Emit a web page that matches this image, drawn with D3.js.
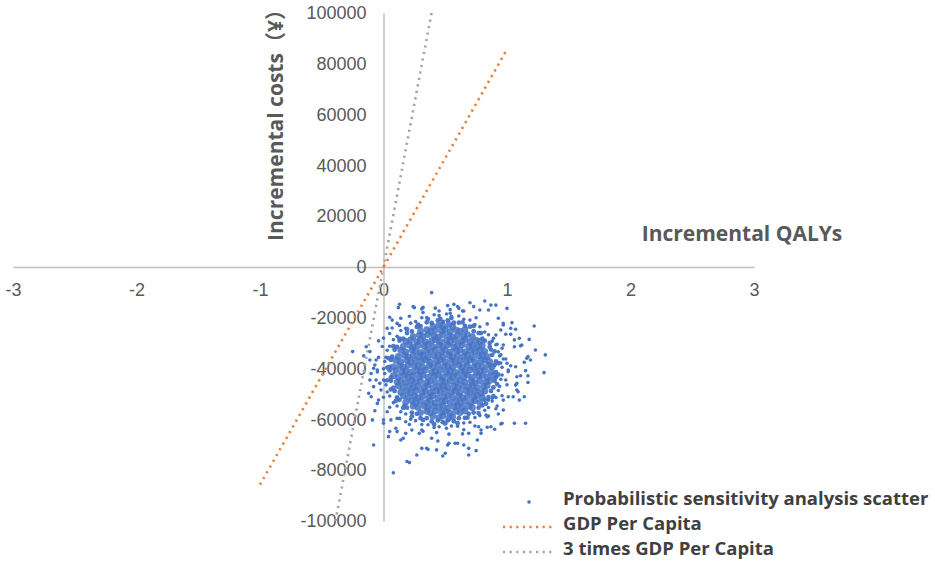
<!DOCTYPE html>
<html>
<head>
<meta charset="utf-8">
<script src="https://cdn.jsdelivr.net/npm/d3@7"></script>
<style>
  body { margin: 0; background: #fff; }
  .tick text { font-family: "Liberation Sans", Arial, sans-serif; font-size: 18px; fill: #595959; }
  .title { font-family: "Open Sans", "Noto Sans CJK SC", sans-serif; font-weight: bold; fill: #595959; }
  .legend text { font-family: "Open Sans", "Noto Sans CJK SC", sans-serif; font-weight: bold; font-size: 18.5px; fill: #404040; }
</style>
</head>
<body>
<script>
// axis ticks
var qalyTicks = [-3, -2, -1, 0, 1, 2, 3];
var costTicks = [-100000, -80000, -60000, -40000, -20000, 0, 20000, 40000, 60000, 80000, 100000];

// willingness-to-pay lines [QALY, cost]
var gdpLine = [[-1, -85698], [1, 85698]];
var gdp3Line = [[-0.389, -100000], [0.389, 100000]];

var legendLabels = ['Probabilistic sensitivity analysis scatter', 'GDP Per Capita', '3 times GDP Per Capita'];

// PSA scatter: [incremental QALY, incremental cost in thousand ¥]
// dense middle of the cloud
var psaCore = [
  [0.40,-23.4],[0.45,-22.8],[0.48,-23.3],[0.53,-22.6],[0.56,-23.5],
  [0.30,-25.3],[0.35,-24.7],[0.38,-25.4],[0.42,-24.8],[0.47,-25.2],[0.50,-24.6],[0.54,-25.5],[0.59,-24.9],[0.62,-25.3],[0.66,-24.7],
  [0.24,-27.4],[0.29,-26.8],[0.32,-27.3],[0.36,-26.6],[0.41,-27.2],[0.44,-27.5],[0.48,-26.7],[0.53,-27.1],[0.56,-27.6],[0.60,-26.9],[0.65,-27.3],[0.68,-26.6],[0.72,-27.4],
  [0.18,-29.2],[0.22,-28.7],[0.27,-29.4],[0.30,-28.8],[0.34,-29.5],[0.39,-29.0],[0.42,-28.6],[0.46,-29.3],[0.51,-28.9],[0.54,-29.6],[0.58,-28.8],[0.63,-29.2],[0.66,-28.5],[0.70,-29.4],[0.75,-28.9],[0.78,-29.3],
  [0.16,-31.3],[0.21,-30.7],[0.24,-31.5],[0.28,-30.9],[0.33,-31.2],[0.36,-30.6],[0.40,-31.4],[0.45,-30.8],[0.48,-31.3],[0.52,-30.7],[0.57,-31.5],[0.60,-31.0],[0.64,-30.6],[0.69,-31.3],[0.72,-30.8],[0.76,-31.4],[0.80,-30.9],
  [0.14,-32.8],[0.18,-33.4],[0.23,-32.7],[0.26,-33.2],[0.30,-33.6],[0.35,-32.9],[0.38,-33.3],[0.42,-32.6],[0.47,-33.4],[0.50,-32.8],[0.54,-33.5],[0.59,-33.0],[0.62,-32.7],[0.66,-33.4],[0.71,-32.9],[0.74,-33.3],[0.78,-32.6],[0.82,-33.2],
  [0.12,-35.2],[0.17,-34.7],[0.20,-35.4],[0.24,-34.9],[0.29,-35.3],[0.32,-34.6],[0.36,-35.5],[0.41,-35.0],[0.44,-34.7],[0.48,-35.3],[0.53,-34.8],[0.56,-35.4],[0.60,-34.9],[0.65,-35.2],[0.68,-34.6],[0.72,-35.5],[0.77,-35.0],[0.80,-34.7],[0.84,-35.3],
  [0.10,-36.8],[0.14,-37.3],[0.19,-36.7],[0.22,-37.4],[0.26,-36.9],[0.31,-37.2],[0.34,-36.6],[0.38,-37.5],[0.43,-37.0],[0.46,-36.7],[0.50,-37.3],[0.55,-36.8],[0.58,-37.4],[0.62,-36.9],[0.67,-37.2],[0.70,-36.6],[0.74,-37.5],[0.79,-37.0],[0.82,-36.7],[0.86,-37.3],
  [0.08,-39.3],[0.13,-38.8],[0.16,-39.4],[0.20,-38.7],[0.25,-39.2],[0.28,-38.9],[0.32,-39.5],[0.37,-38.8],[0.40,-39.3],[0.44,-38.6],[0.49,-39.2],[0.52,-38.9],[0.56,-39.4],[0.61,-38.7],[0.64,-39.3],[0.68,-38.8],[0.73,-39.5],[0.76,-38.9],[0.80,-39.2],[0.85,-38.7],[0.88,-39.3],
  [0.10,-40.7],[0.15,-41.3],[0.18,-40.8],[0.22,-41.4],[0.27,-40.9],[0.30,-41.2],[0.34,-40.6],[0.39,-41.5],[0.42,-41.0],[0.46,-40.7],[0.51,-41.3],[0.54,-40.8],[0.58,-41.4],[0.63,-40.9],[0.66,-41.2],[0.70,-40.6],[0.75,-41.5],[0.78,-41.0],[0.82,-40.7],[0.87,-41.3],
  [0.08,-42.8],[0.12,-43.3],[0.17,-42.7],[0.20,-43.4],[0.24,-42.9],[0.29,-43.2],[0.32,-42.6],[0.36,-43.5],[0.41,-43.0],[0.44,-42.7],[0.48,-43.3],[0.53,-42.8],[0.56,-43.4],[0.60,-42.9],[0.65,-43.2],[0.68,-42.6],[0.72,-43.5],[0.77,-43.0],[0.80,-42.7],[0.84,-43.3],[0.89,-42.8],
  [0.11,-45.3],[0.14,-44.8],[0.18,-45.4],[0.23,-44.7],[0.26,-45.2],[0.30,-44.9],[0.35,-45.5],[0.38,-44.8],[0.42,-45.3],[0.47,-44.6],[0.50,-45.2],[0.54,-44.9],[0.59,-45.4],[0.62,-44.7],[0.66,-45.3],[0.71,-44.8],[0.74,-45.5],[0.78,-44.9],[0.83,-45.2],[0.86,-44.7],
  [0.12,-46.8],[0.16,-47.3],[0.21,-46.7],[0.24,-47.4],[0.28,-46.9],[0.33,-47.2],[0.36,-46.6],[0.40,-47.5],[0.45,-47.0],[0.48,-46.7],[0.52,-47.3],[0.57,-46.8],[0.60,-47.4],[0.64,-46.9],[0.69,-47.2],[0.72,-46.6],[0.76,-47.5],[0.81,-47.0],[0.84,-46.7],
  [0.14,-49.3],[0.19,-48.8],[0.22,-49.4],[0.26,-48.7],[0.31,-49.2],[0.34,-48.9],[0.38,-49.5],[0.43,-48.8],[0.46,-49.3],[0.50,-48.6],[0.55,-49.2],[0.58,-48.9],[0.62,-49.4],[0.67,-48.7],[0.70,-49.3],[0.74,-48.8],[0.79,-49.5],[0.82,-48.9],
  [0.16,-50.7],[0.20,-51.3],[0.25,-50.8],[0.28,-51.4],[0.32,-50.9],[0.37,-51.2],[0.40,-50.6],[0.44,-51.5],[0.49,-51.0],[0.52,-50.7],[0.56,-51.3],[0.61,-50.8],[0.64,-51.4],[0.68,-50.9],[0.73,-51.2],[0.76,-50.6],[0.80,-51.3],
  [0.18,-53.2],[0.23,-52.7],[0.26,-53.4],[0.30,-52.9],[0.35,-53.3],[0.38,-52.6],[0.42,-53.5],[0.47,-53.0],[0.50,-52.7],[0.54,-53.3],[0.59,-52.8],[0.62,-53.4],[0.66,-52.9],[0.71,-53.2],[0.74,-52.6],[0.78,-53.3],
  [0.24,-54.8],[0.28,-55.3],[0.33,-54.7],[0.36,-55.4],[0.40,-54.9],[0.45,-55.2],[0.48,-54.6],[0.52,-55.5],[0.57,-55.0],[0.60,-54.7],[0.64,-55.3],[0.69,-54.8],[0.72,-55.4],
  [0.30,-57.3],[0.35,-56.8],[0.38,-57.4],[0.42,-56.7],[0.47,-57.2],[0.50,-56.9],[0.54,-57.5],[0.59,-56.8],[0.62,-57.3],[0.66,-56.7],
  [0.40,-58.8],[0.45,-59.3],[0.48,-58.7],[0.53,-59.4],[0.56,-58.9]
];

// edge of the dense part
var psaEdge = [
  [0.91,-41.4],[0.90,-38.5],[0.91,-37.2],[0.88,-34.6],[0.87,-32.5],[0.86,-31.4],[0.82,-29.0],[0.80,-28.2],[0.77,-26.0],[0.73,-25.3],
  [0.70,-23.5],[0.66,-23.2],[0.61,-21.9],[0.57,-21.9],[0.52,-21.0],[0.48,-21.6],[0.44,-21.0],[0.39,-22.0],[0.35,-21.8],[0.30,-23.3],
  [0.27,-23.6],[0.23,-25.4],[0.19,-26.0],[0.16,-28.2],[0.13,-29.0],[0.11,-31.5],[0.09,-32.6],[0.07,-35.3],[0.06,-36.6],[0.05,-39.3],
  [0.05,-40.7],[0.06,-43.5],[0.06,-44.8],[0.08,-47.5],[0.09,-48.8],[0.11,-51.3],[0.13,-52.3],[0.17,-54.6],[0.19,-55.4],[0.23,-57.3],
  [0.27,-57.8],[0.30,-59.5],[0.35,-59.5],[0.39,-60.8],[0.44,-60.4],[0.48,-61.1],[0.52,-60.4],[0.57,-60.7],[0.61,-59.5],[0.66,-59.4],
  [0.69,-57.8],[0.73,-57.3],[0.77,-55.4],[0.80,-54.5],[0.82,-52.3],[0.85,-51.2],[0.87,-48.8],[0.89,-47.4],[0.90,-44.8],[0.91,-43.4],
  [0.93,-37.9],[0.90,-33.2],[0.86,-29.9],[0.79,-26.0],[0.73,-23.2],[0.64,-21.8],[0.55,-20.1],[0.46,-20.4],[0.36,-20.5],[0.28,-22.7],
  [0.19,-24.5],[0.13,-28.2],[0.08,-31.2],[0.04,-35.9],[0.03,-39.6],[0.03,-44.6],[0.06,-48.2],[0.10,-52.7],[0.16,-55.5],[0.23,-58.8],
  [0.32,-60.2],[0.41,-61.9],[0.50,-61.6],[0.60,-61.5],[0.68,-59.3],[0.77,-57.5],[0.83,-53.8],[0.89,-50.8],[0.92,-46.1],[0.93,-42.4]
];

// looser fringe and the scattered outliers
var psaSpread = [
  [0.96,-39.5],[0.95,-37.8],[0.94,-35.0],[0.93,-33.4],[0.91,-30.6],[0.88,-29.2],[0.85,-26.7],[0.82,-25.6],[0.78,-23.5],[0.74,-22.7],
  [0.70,-20.9],[0.65,-20.6],[0.61,-19.3],[0.55,-19.4],[0.51,-18.5],[0.45,-19.1],[0.41,-18.8],[0.35,-19.9],[0.31,-20.0],[0.26,-21.5],
  [0.22,-22.1],[0.18,-24.1],[0.14,-25.0],[0.11,-27.3],[0.08,-28.6],[0.05,-31.2],[0.03,-32.8],[0.02,-35.6],[0.01,-37.2],[0.00,-40.1],
  [0.01,-41.9],[0.01,-44.8],[0.02,-46.4],[0.03,-49.2],[0.05,-50.8],[0.08,-53.4],[0.11,-54.7],[0.14,-57.0],[0.18,-57.9],[0.22,-59.9],
  [0.26,-60.5],[0.31,-62.0],[0.36,-62.1],[0.41,-63.2],[0.45,-62.9],[0.51,-63.5],[0.55,-62.6],[0.60,-62.7],[0.65,-61.4],[0.70,-61.1],
  [0.74,-59.3],[0.78,-58.5],[0.82,-56.4],[0.85,-55.3],[0.88,-52.8],[0.91,-51.4],[0.93,-48.6],[0.94,-47.0],[0.95,-44.2],[0.96,-42.5],
  [1.01,-40.6],[0.99,-36.2],[0.97,-30.7],[0.91,-26.8],[0.84,-22.4],[0.75,-20.0],[0.64,-17.3],[0.54,-16.8],[0.42,-16.2],[0.32,-17.9],
  [0.21,-19.4],[0.13,-23.0],[0.05,-26.2],[-0.01,-31.3],[-0.04,-35.6],[-0.05,-41.3],[-0.03,-45.8],[0.00,-51.3],[0.05,-55.2],[0.13,-59.6],
  [0.21,-62.0],[0.32,-64.7],[0.43,-65.2],[0.53,-65.8],[0.65,-64.1],[0.74,-62.6],[0.84,-59.0],[0.91,-55.8],[0.96,-50.7],[1.00,-46.4],
  [0.39,-10.1],[0.25,-16.0],[0.31,-16.5],[0.13,-14.7],[0.12,-16.0],[0.05,-19.8],[0.14,-20.2],[0.03,-24.1],[0.07,-24.0],[0.00,-28.0],
  [-0.04,-29.1],[-0.14,-31.4],[-0.16,-35.0],[-0.11,-36.6],[-0.07,-38.6],[-0.05,-40.6],[-0.10,-41.9],[-0.06,-44.5],[0.45,-17.3],[0.52,-15.2],
  [0.57,-14.7],[0.48,-21.5],[0.54,-18.2],[0.24,-15.6],[0.32,-15.9],[0.61,-16.3],[0.70,-14.1],[0.73,-15.6],[0.82,-13.4],[0.87,-15.0],
  [0.91,-15.0],[0.07,-20.9],[0.11,-22.2],[0.97,-22.2],[1.04,-21.9],[1.07,-24.5],[1.10,-28.1],[1.12,-30.7],[1.18,-28.5],[1.22,-23.2],
  [1.23,-32.7],[1.31,-34.6],[1.16,-35.9],[1.19,-36.6],[1.30,-41.6],[1.15,-40.8],[1.08,-43.2],[1.07,-46.5],[1.08,-48.4],[1.14,-51.1],
  [1.05,-51.1],[0.97,-52.4],[1.15,-61.5],[1.06,-61.5],[0.95,-61.8],[0.87,-62.9],[0.79,-65.5],[0.76,-68.1],[0.69,-71.4],[0.60,-69.4],
  [0.52,-70.1],[0.50,-73.3],[0.43,-72.0],[0.35,-71.4],[0.31,-71.4],[0.27,-74.0],[0.19,-76.6],[0.08,-81.0],[-0.08,-70.1],[0.04,-66.8],
  [0.11,-64.8],[0.18,-65.5],[-0.11,-33.3],[-0.06,-36.6],[-0.08,-39.9],[-0.11,-44.5],[-0.10,-51.1],[-0.09,-60.2],[0.00,-44.5],[-0.02,-48.4],
  [-0.04,-52.4],[0.03,-57.0],[0.00,-60.2],[-0.25,-33.3],[-0.08,-47.1],[-0.12,-49.7],[-0.05,-53.7],[-0.07,-56.6],[0.00,-61.5],[0.05,-64.8],
  [0.10,-63.5],[0.14,-68.1],[0.16,-67.4],[0.21,-77.0],[0.36,-71.8],[0.48,-74.4],[0.39,-67.4],[0.44,-68.5],[0.53,-69.4],[0.29,-65.5],
  [0.31,-64.2],[0.23,-64.2],[0.06,-60.2],[0.11,-59.6],[0.18,-60.9],[1.17,-45.5],[1.09,-49.1],[1.10,-52.4],[1.01,-51.1],[0.92,-54.7],
  [0.93,-57.9],[0.97,-56.3],[0.96,-61.5],[0.90,-63.9],[0.84,-63.1],[0.79,-64.2],[0.75,-72.3],[0.69,-74.0],[0.65,-70.1],[0.58,-69.4],
  [0.69,-65.5],[0.64,-65.7],[0.77,-62.9],[0.85,-52.4],[0.88,-51.7],[0.83,-58.3],[0.85,-58.7],[0.78,-16.9],[0.85,-16.9],[0.93,-20.2],
  [0.60,-15.6],[0.65,-17.3],[1.00,-16.3],[0.97,-22.8],[0.95,-24.8],[0.99,-26.5],[1.03,-26.5],[1.06,-28.7],[1.06,-31.4],[1.11,-31.0],
  [1.17,-35.3],[1.14,-37.5],[1.07,-39.3],[1.03,-38.9],[1.17,-42.8],[1.11,-42.8],[1.01,-41.2],[0.99,-44.5],[1.08,-45.8],[0.95,-34.6],
  [0.97,-36.2],[1.00,-37.9],[0.96,-32.0],[0.92,-30.4],[0.89,-28.1],[1.03,-24.1]
];

var w = 935,
    h = 576;

var svg = d3.select('body').append('svg')
    .attr('width', w)
    .attr('height', h);

var x = d3.scaleLinear().domain([-3, 3]).range([13, 754]);
var y = d3.scaleLinear().domain([-100000, 100000]).range([521, 13]);

// axes cross at the origin
var xAxis = svg.append('g')
    .attr('transform', 'translate(0,' + y(0) + ')')
    .call(d3.axisBottom(x)
      .tickValues(qalyTicks)
      .tickSize(0)
      .tickSizeOuter(0)
      .tickPadding(16)
      .tickFormat(function(d) { return String(d); }));

var yAxis = svg.append('g')
    .attr('transform', 'translate(' + x(0) + ',0)')
    .call(d3.axisLeft(y)
      .tickValues(costTicks)
      .tickSize(0)
      .tickSizeOuter(0)
      .tickPadding(17)
      .tickFormat(function(d) { return String(d); }));

svg.selectAll('.domain')
    .style('stroke', '#bfbfbf')
    .style('stroke-width', 1.5);

// axis titles
svg.append('text')
    .attr('class', 'title')
    .attr('x', 742)
    .attr('y', 241)
    .attr('text-anchor', 'middle')
    .style('font-size', '21px')
    .text('Incremental QALYs');

svg.append('text')
    .attr('class', 'title')
    .attr('transform', 'translate(283,120) rotate(-90)')
    .attr('text-anchor', 'middle')
    .style('font-size', '21px')
    .text('Incremental costs（¥）');

// threshold lines
var line = d3.line()
    .x(function(d) { return x(d[0]); })
    .y(function(d) { return y(d[1]); });

svg.append('path')
    .datum(gdp3Line)
    .attr('d', line)
    .style('fill', 'none')
    .style('stroke', '#A5A5A5')
    .style('stroke-width', 2.6)
    .style('stroke-dasharray', '2.2,4.4');

svg.append('path')
    .datum(gdpLine)
    .attr('d', line)
    .style('fill', 'none')
    .style('stroke', '#ED7D31')
    .style('stroke-width', 2.6)
    .style('stroke-dasharray', '2.2,4.4');

// scatter: outliers small, dense middle drawn with bigger overlapping dots
function dots(data, r, opacity) {
    svg.append('g').selectAll('circle')
        .data(data)
        .enter().append('circle')
        .attr('cx', function(d) { return x(d[0]); })
        .attr('cy', function(d) { return y(d[1] * 1000); })
        .attr('r', r)
        .style('fill', '#4472C4')
        .style('fill-opacity', opacity);
}
dots(psaSpread, 1.8, 1);
dots(psaEdge, 2.4, 0.95);
dots(psaCore, 3.4, 0.85);

// legend
var legend = svg.append('g').attr('class', 'legend');
var rowY = [499, 524, 549];

legend.selectAll('text')
    .data(legendLabels)
    .enter().append('text')
    .attr('x', 563)
    .attr('y', function(d, i) { return rowY[i]; })
    .attr('dy', '0.35em')
    .text(function(d) { return d; });

legend.append('circle')
    .attr('cx', 529)
    .attr('cy', rowY[0] + 3)
    .attr('r', 1.8)
    .style('fill', '#4472C4');

legend.append('line')
    .attr('x1', 503).attr('x2', 553)
    .attr('y1', rowY[1] + 3).attr('y2', rowY[1] + 3)
    .style('stroke', '#ED7D31')
    .style('stroke-width', 2.6)
    .style('stroke-dasharray', '2.2,4.4');

legend.append('line')
    .attr('x1', 503).attr('x2', 553)
    .attr('y1', rowY[2] + 3).attr('y2', rowY[2] + 3)
    .style('stroke', '#A5A5A5')
    .style('stroke-width', 2.6)
    .style('stroke-dasharray', '2.2,4.4');
</script>
</body>
</html>
